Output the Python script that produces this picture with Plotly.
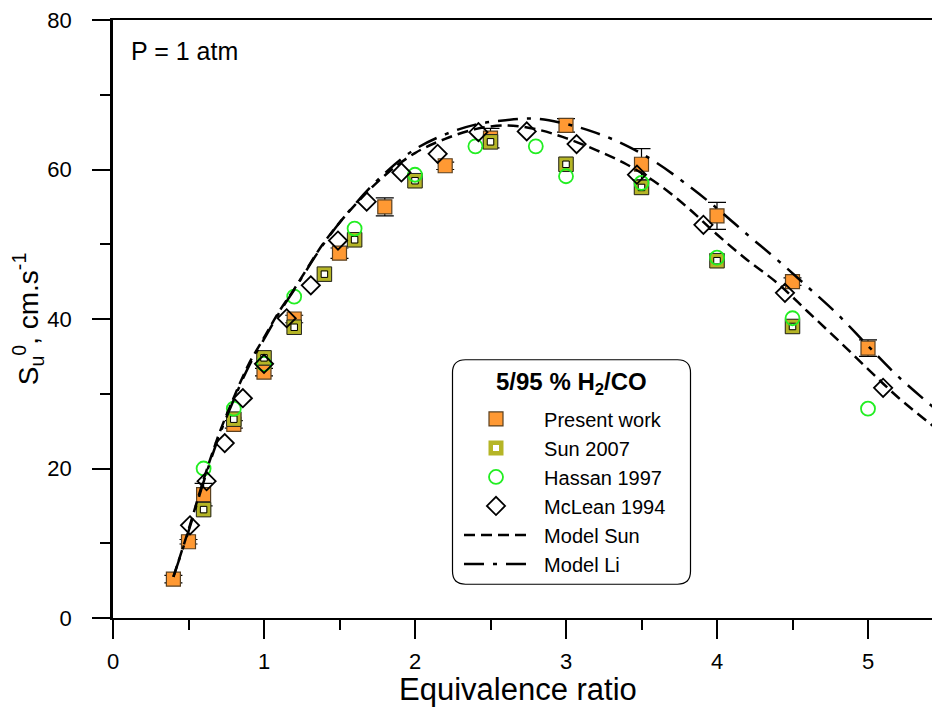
import plotly.graph_objects as go

# ---------------- data ----------------
pw_x = [0.4, 0.5, 0.6, 0.8, 1.0, 1.2, 1.5, 1.8, 2.2, 2.5, 3.0, 3.5, 4.0, 4.5, 5.0]
pw_y = [5.2, 10.2, 16.5, 25.9, 32.9, 40.0, 48.8, 55.0, 60.5, 64.2, 65.9, 60.7, 53.8, 45.0, 36.1]
pw_err = [0.5, 0.3, 1.5, 0.5, 0.5, 0.5, 0.7, 1.2, 0.5, 1.3, 0.9, 2.1, 1.8, 0.5, 1.1]

sun_x = [0.6, 0.8, 1.0, 1.2, 1.4, 1.6, 2.0, 2.5, 3.0, 3.5, 4.0, 4.5]
sun_y = [14.5, 26.6, 34.8, 38.9, 46.0, 50.6, 58.5, 63.7, 60.7, 57.6, 47.8, 39.0]

has_x = [0.6, 0.8, 1.0, 1.2, 1.6, 2.0, 2.4, 2.8, 3.0, 3.5, 4.0, 4.5, 5.0]
has_y = [20.0, 28.0, 34.0, 43.0, 52.1, 59.3, 63.1, 63.1, 59.1, 58.2, 48.2, 40.1, 28.0]

mcl_x = [0.51, 0.62, 0.74, 0.86, 1.0, 1.15, 1.31, 1.49, 1.68, 1.91, 2.15, 2.42, 2.74, 3.07, 3.47, 3.91, 4.45, 5.10]
mcl_y = [12.4, 18.3, 23.4, 29.4, 34.0, 40.1, 44.5, 50.5, 55.7, 59.6, 62.1, 65.0, 65.1, 63.4, 59.3, 52.6, 43.5, 30.8]

msun_x = [0.4, 0.5, 0.6, 0.7, 0.8, 0.9, 1.0, 1.1, 1.2, 1.4, 1.6, 1.8, 2.0, 2.2, 2.4, 2.6, 2.8, 3.0,
          3.2, 3.4, 3.6, 3.8, 4.0, 4.2, 4.4, 4.6, 4.8, 5.0, 5.2, 5.48]
msun_y = [5.5, 11.8, 18.5, 24.5, 29.5, 34.0, 37.5, 41.0, 44.0, 50.3, 55.2, 59.2, 62.2, 64.1, 65.4, 65.9, 65.4, 64.2,
          62.6, 60.7, 58.2, 55.0, 51.3, 47.9, 44.8, 41.0, 37.2, 33.3, 29.5, 24.9]

mli_x = [0.4, 0.5, 0.6, 0.7, 0.8, 0.9, 1.0, 1.1, 1.2, 1.4, 1.6, 1.8, 2.0, 2.2, 2.4, 2.6, 2.8, 3.0,
         3.2, 3.4, 3.6, 3.8, 4.0, 4.2, 4.4, 4.6, 4.8, 5.0, 5.2, 5.48]
mli_y = [5.5, 11.6, 18.2, 24.2, 29.2, 33.7, 37.3, 40.8, 43.9, 50.2, 55.3, 59.5, 62.7, 64.7, 66.0, 66.6, 66.8, 66.1,
         64.9, 63.2, 60.9, 58.0, 54.8, 51.3, 47.9, 44.3, 40.6, 36.4, 32.3, 27.4]

x_ticks = [0, 1, 2, 3, 4, 5]
y_ticks = [0, 20, 40, 60, 80]

FONT = "Liberation Sans, Arial, sans-serif"
NB = "\u00a0\u00a0"

# page-pixel helpers (plot area spans page x 113..940, y 16..618)
def px(xp):
    return (xp - 113) / 827

def py(yp):
    return (618 - yp) / 602

fig = go.Figure()

fig.add_trace(go.Scatter(
    x=pw_x, y=pw_y, mode="markers", name=NB + "Present work",
    marker=dict(symbol="square", size=14, color="#FF9933", line=dict(color="#5a4020", width=1.2)),
    error_y=dict(type="data", array=pw_err, visible=True, color="black", thickness=1.2, width=9),
))
fig.add_trace(go.Scatter(
    x=sun_x, y=sun_y, mode="markers", name=NB + "Sun 2007",
    marker=dict(symbol="square", size=10.5, color="white", line=dict(color="#B5B526", width=4.5)),
))
fig.add_trace(go.Scatter(
    x=sun_x, y=sun_y, mode="markers", showlegend=False, hoverinfo="skip",
    marker=dict(symbol="square-open", size=14.5, color="#222222", line=dict(width=1)),
))
fig.add_trace(go.Scatter(
    x=sun_x, y=sun_y, mode="markers", showlegend=False, hoverinfo="skip",
    marker=dict(symbol="square-open", size=6.5, color="black", line=dict(width=1)),
))
fig.add_trace(go.Scatter(
    x=has_x, y=has_y, mode="markers", name=NB + "Hassan 1997",
    marker=dict(symbol="circle-open", size=14, color="#22EE22", line=dict(width=1.8)),
))
fig.add_trace(go.Scatter(
    x=mcl_x, y=mcl_y, mode="markers", name=NB + "McLean 1994",
    marker=dict(symbol="diamond-open", size=14, color="black", line=dict(width=1.8)),
))
fig.add_trace(go.Scatter(
    x=msun_x, y=msun_y, mode="lines", name=NB + "Model Sun",
    line=dict(color="black", width=2.5, dash="11px,6px", shape="spline"),
))
fig.add_trace(go.Scatter(
    x=mli_x, y=mli_y, mode="lines", name=NB + "Model Li",
    line=dict(color="black", width=2.5, dash="20px,9px,4px,9px", shape="spline"),
))

# rounded legend box (page pixels -> paper)
bx0, bx1, by0, by1 = px(452.5), px(690.5), py(584), py(358)
rx, ry = 13 / 827, 13 / 602
path = (f"M {bx0+rx},{by1} L {bx1-rx},{by1} Q {bx1},{by1} {bx1},{by1-ry} "
        f"L {bx1},{by0+ry} Q {bx1},{by0} {bx1-rx},{by0} L {bx0+rx},{by0} "
        f"Q {bx0},{by0} {bx0},{by0+ry} L {bx0},{by1-ry} Q {bx0},{by1} {bx0+rx},{by1} Z")
fig.add_shape(type="path", path=path, xref="paper", yref="paper", fillcolor="white",
              line=dict(color="black", width=1.2), layer="below")

fig.add_annotation(text="<b>5/95 % H<sub>2</sub>/CO</b>", xref="paper", yref="paper",
                   x=px(571), y=py(382), xanchor="center", yanchor="middle", showarrow=False,
                   font=dict(family=FONT, size=24, color="black"))

fig.add_annotation(text="P = 1 atm", xref="paper", yref="paper", x=px(129), y=py(47),
                   xanchor="left", yanchor="middle", showarrow=False,
                   font=dict(family=FONT, size=25, color="black"))

fig.add_annotation(text="Equivalence ratio", xref="paper", yref="paper", x=px(518), y=py(690),
                   xanchor="center", yanchor="middle", showarrow=False,
                   font=dict(family=FONT, size=31, color="black"))

fig.update_layout(
    width=932, height=705,
    margin=dict(l=105, r=0, t=8, b=95),
    paper_bgcolor="white", plot_bgcolor="white",
    font=dict(family=FONT, color="black"),
    legend=dict(
        x=px(459), y=py(398), xanchor="left", yanchor="top",
        bgcolor="rgba(0,0,0,0)", borderwidth=0,
        font=dict(family=FONT, size=20, color="black"),
        itemwidth=64, tracegroupgap=0,
    ),
    xaxis=dict(
        range=[0, 827/151], showgrid=False, zeroline=False,
        showline=True, linecolor="black", linewidth=2, mirror=True,
        ticks="outside", tickvals=x_ticks, ticklen=19, tickwidth=2, tickcolor="black",
        minor=dict(tickvals=[0.5, 1.5, 2.5, 3.5, 4.5], ticklen=10, tickwidth=2, tickcolor="black", ticks="outside"),
        tickfont=dict(family=FONT, size=22, color="black"), ticklabelstandoff=4,
        ticklabeloverflow="allow",
    ),
    yaxis=dict(
        range=[0, 80], showgrid=False, zeroline=False,
        showline=True, linecolor="black", linewidth=2.5,
        ticks="outside", tickvals=y_ticks, ticklen=18, tickwidth=2, tickcolor="black",
        minor=dict(tickvals=[10, 30, 50, 70], ticklen=10, tickwidth=2, tickcolor="black", ticks="outside"),
        tickfont=dict(family=FONT, size=22, color="black"), ticklabelstandoff=16,
        ticklabeloverflow="allow",
        title=dict(text="S<sub>u</sub><sup>0</sup>, cm.s<sup>-1</sup>", font=dict(family=FONT, size=28, color="black"), standoff=6),
    ),
)

fig.write_html("out.html")
